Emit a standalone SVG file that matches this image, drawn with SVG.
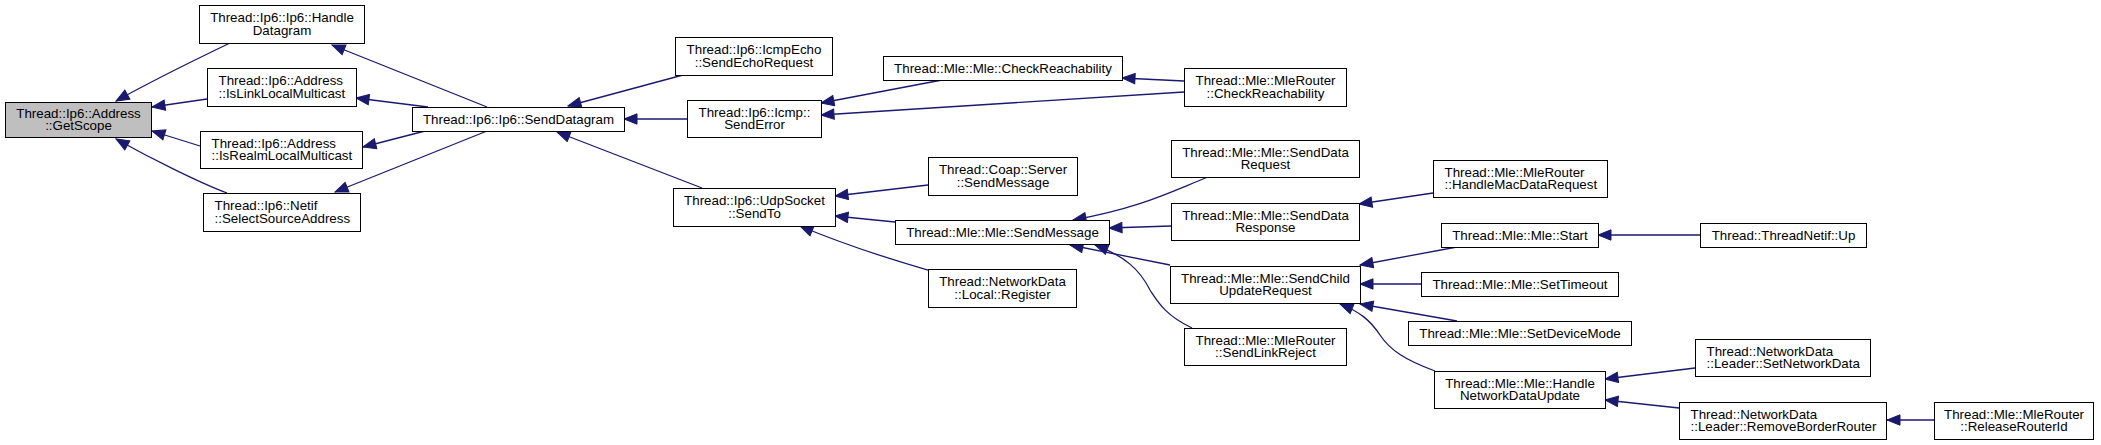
<svg xmlns="http://www.w3.org/2000/svg" width="2101" height="445" viewBox="0 0 2101 445">
<style>
.n rect{fill:#fff;stroke:#000;stroke-width:1}
.n.root rect{fill:#bfbfbf}
text{font-family:"Liberation Sans",Arial,Helvetica,sans-serif;font-size:13.33px;fill:#000}
.c{text-anchor:middle}
.l{text-anchor:start}
#edges path{fill:none;stroke:#191970;stroke-width:1.3;marker-end:url(#ah)}
</style>
<defs>
<marker id="ah" markerUnits="userSpaceOnUse" markerWidth="15" markerHeight="12" viewBox="0 0 15 12" refX="14" refY="6" orient="auto">
<path d="M1,0.8 L14,6 L1,11.2 Z" fill="#191970" stroke="#191970" stroke-width="1"/>
</marker>
</defs>
<rect width="2101" height="445" fill="#fff"/>
<g id="edges">
<path d="M230,43 C205,55 150,82 116,101"/>
<path d="M207,99 L152,107"/>
<path d="M200,146 L152,131"/>
<path d="M227,193 C200,183 150,158 116,139"/>
<path d="M487,107 L332,45"/>
<path d="M428,107 L356,98"/>
<path d="M425,131 L363,147"/>
<path d="M487,131 L335,192"/>
<path d="M683,75 L568,106"/>
<path d="M687,119 L624,119"/>
<path d="M702,188 L557,132"/>
<path d="M942,80 L821,103"/>
<path d="M1184,92 L821,115"/>
<path d="M1184,81 L1122,78"/>
<path d="M928,185 L835,196"/>
<path d="M895,222 L835,216"/>
<path d="M928,270 C900,262 850,247 800,226"/>
<path d="M1208,177 C1170,192 1140,208 1073,220"/>
<path d="M1171,226 L1109,228"/>
<path d="M1170,265 L1070,245"/>
<path d="M1192,328 C1165,315 1158,302 1150,290 C1140,270 1125,256 1095,245"/>
<path d="M1433,193 L1359,204"/>
<path d="M1457,247 L1360,265"/>
<path d="M1421,284 L1360,284"/>
<path d="M1457,321 L1360,304"/>
<path d="M1435,371 C1405,360 1390,350 1380,335 C1370,320 1360,312 1340,304"/>
<path d="M1700,235 L1598,235"/>
<path d="M1695,368 L1605,379"/>
<path d="M1679,408 L1605,400"/>
<path d="M1934,420 L1887,420"/>
</g>
<g id="n-getscope" class="n root"><rect x="5.5" y="102.5" width="146" height="35"/><text class="c"><tspan x="78.5" y="117.5">Thread::Ip6::Address</tspan><tspan x="78.5" y="130.2">::GetScope</tspan></text></g>
<g id="n-handledatagram" class="n"><rect x="199.5" y="5.5" width="165" height="38"/><text class="c"><tspan x="282" y="22">Thread::Ip6::Ip6::Handle</tspan><tspan x="282" y="34.7">Datagram</tspan></text></g>
<g id="n-islinklocal" class="n"><rect x="207.5" y="68.5" width="149" height="38"/><text class="l"><tspan x="218.5" y="85">Thread::Ip6::Address</tspan><tspan x="218.5" y="97.7">::IsLinkLocalMulticast</tspan></text></g>
<g id="n-isrealmlocal" class="n"><rect x="200.5" y="131.5" width="162" height="37"/><text class="l"><tspan x="211.5" y="147.5">Thread::Ip6::Address</tspan><tspan x="211.5" y="160.2">::IsRealmLocalMulticast</tspan></text></g>
<g id="n-selectsource" class="n"><rect x="203.5" y="193.5" width="157" height="38"/><text class="l"><tspan x="214.5" y="210">Thread::Ip6::Netif</tspan><tspan x="214.5" y="222.7">::SelectSourceAddress</tspan></text></g>
<g id="n-senddatagram" class="n"><rect x="412.5" y="107.5" width="212" height="24"/><text class="c" x="518.5" y="123.5">Thread::Ip6::Ip6::SendDatagram</text></g>
<g id="n-sendechorequest" class="n"><rect x="675.5" y="37.5" width="157" height="38"/><text class="c"><tspan x="754" y="54">Thread::Ip6::IcmpEcho</tspan><tspan x="754" y="66.7">::SendEchoRequest</tspan></text></g>
<g id="n-senderror" class="n"><rect x="687.5" y="100.5" width="134" height="37"/><text class="c"><tspan x="754.5" y="116.5">Thread::Ip6::Icmp::</tspan><tspan x="754.5" y="129.2">SendError</tspan></text></g>
<g id="n-sendto" class="n"><rect x="673.5" y="188.5" width="162" height="38"/><text class="c"><tspan x="754.5" y="205">Thread::Ip6::UdpSocket</tspan><tspan x="754.5" y="217.7">::SendTo</tspan></text></g>
<g id="n-mlecheckreach" class="n"><rect x="883.5" y="56.5" width="239" height="24"/><text class="c" x="1003" y="72.5">Thread::Mle::Mle::CheckReachability</text></g>
<g id="n-routercheckreach" class="n"><rect x="1184.5" y="68.5" width="162" height="38"/><text class="c"><tspan x="1265.5" y="85">Thread::Mle::MleRouter</tspan><tspan x="1265.5" y="97.7">::CheckReachability</tspan></text></g>
<g id="n-coapsendmessage" class="n"><rect x="928.5" y="157.5" width="149" height="38"/><text class="c"><tspan x="1003" y="174">Thread::Coap::Server</tspan><tspan x="1003" y="186.7">::SendMessage</tspan></text></g>
<g id="n-mlesendmessage" class="n"><rect x="895.5" y="220.5" width="214" height="24"/><text class="c" x="1002.5" y="236.5">Thread::Mle::Mle::SendMessage</text></g>
<g id="n-localregister" class="n"><rect x="928.5" y="269.5" width="148" height="38"/><text class="c"><tspan x="1002.5" y="286">Thread::NetworkData</tspan><tspan x="1002.5" y="298.7">::Local::Register</tspan></text></g>
<g id="n-senddatarequest" class="n"><rect x="1171.5" y="140.5" width="188" height="37"/><text class="c"><tspan x="1265.5" y="156.5">Thread::Mle::Mle::SendData</tspan><tspan x="1265.5" y="169.2">Request</tspan></text></g>
<g id="n-senddataresponse" class="n"><rect x="1171.5" y="203.5" width="188" height="37"/><text class="c"><tspan x="1265.5" y="219.5">Thread::Mle::Mle::SendData</tspan><tspan x="1265.5" y="232.2">Response</tspan></text></g>
<g id="n-sendchildupdate" class="n"><rect x="1170.5" y="266.5" width="190" height="37"/><text class="c"><tspan x="1265.5" y="282.5">Thread::Mle::Mle::SendChild</tspan><tspan x="1265.5" y="295.2">UpdateRequest</tspan></text></g>
<g id="n-sendlinkreject" class="n"><rect x="1184.5" y="328.5" width="162" height="37"/><text class="c"><tspan x="1265.5" y="344.5">Thread::Mle::MleRouter</tspan><tspan x="1265.5" y="357.2">::SendLinkReject</tspan></text></g>
<g id="n-handlemacdatarequest" class="n"><rect x="1433.5" y="160.5" width="174" height="37"/><text class="l"><tspan x="1444.5" y="176.5">Thread::Mle::MleRouter</tspan><tspan x="1444.5" y="189.2">::HandleMacDataRequest</tspan></text></g>
<g id="n-start" class="n"><rect x="1441.5" y="223.5" width="157" height="24"/><text class="c" x="1520" y="239.5">Thread::Mle::Mle::Start</text></g>
<g id="n-settimeout" class="n"><rect x="1421.5" y="272.5" width="197" height="24"/><text class="c" x="1520" y="288.5">Thread::Mle::Mle::SetTimeout</text></g>
<g id="n-setdevicemode" class="n"><rect x="1408.5" y="321.5" width="223" height="24"/><text class="c" x="1520" y="337.5">Thread::Mle::Mle::SetDeviceMode</text></g>
<g id="n-handlenetworkdataupdate" class="n"><rect x="1434.5" y="371.5" width="171" height="37"/><text class="c"><tspan x="1520" y="387.5">Thread::Mle::Mle::Handle</tspan><tspan x="1520" y="400.2">NetworkDataUpdate</tspan></text></g>
<g id="n-threadnetifup" class="n"><rect x="1700.5" y="223.5" width="166" height="24"/><text class="c" x="1783.5" y="239.5">Thread::ThreadNetif::Up</text></g>
<g id="n-setnetworkdata" class="n"><rect x="1695.5" y="339.5" width="175" height="37"/><text class="l"><tspan x="1706.5" y="355.5">Thread::NetworkData</tspan><tspan x="1706.5" y="368.2">::Leader::SetNetworkData</tspan></text></g>
<g id="n-removeborderrouter" class="n"><rect x="1679.5" y="402.5" width="207" height="37"/><text class="l"><tspan x="1690.5" y="418.5">Thread::NetworkData</tspan><tspan x="1690.5" y="431.2">::Leader::RemoveBorderRouter</tspan></text></g>
<g id="n-releaserouterid" class="n"><rect x="1934.5" y="402.5" width="159" height="37"/><text class="c"><tspan x="2014" y="418.5">Thread::Mle::MleRouter</tspan><tspan x="2014" y="431.2">::ReleaseRouterId</tspan></text></g>
</svg>
